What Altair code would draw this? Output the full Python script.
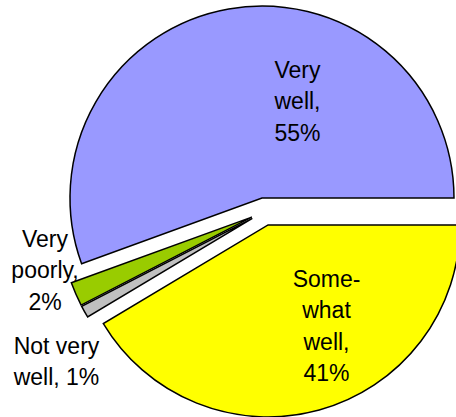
import altair as alt
import pandas as pd

# ---- data (clockwise from 3 o'clock, as in the reference) ----
categories = ["Somewhat well", "Not very well", "Very poorly", "Very well"]
values = [41, 1, 2, 55]
label_lines = [
    ["Some-", "what", "well,", "41%"],
    ["Not very", "well, 1%"],
    ["Very", "poorly,", "2%"],
    ["Very", "well,", "55%"],
]
colors = ["#FFFF00", "#C0C0C0", "#99CC00", "#9999FF"]

# ---- layout (pixels) ----
CX, CY = 264.4, 211.6      # pie centre
RADIUS = 192
EXPLODE = 13.8
label_pos = {               # centre x, first baseline y
    "Somewhat well": (326.5, 286.5),
    "Not very well": (56.5, 353.5),
    "Very poorly": (45.0, 246.5),
    "Very well": (297.5, 77.5),
}

df = pd.DataFrame({
    "cat": categories,
    "val": values,
    "order": list(range(len(categories))),
    "label": ["\n".join(l) for l in label_lines],
    "lx": [label_pos[c][0] for c in categories],
    "ly": [label_pos[c][1] for c in categories],
})

color_scale = alt.Scale(domain=categories, range=colors)

base = alt.Chart(df)

arcs = base.transform_window(
    cum="sum(val)", sort=[alt.SortField("order")]
).transform_joinaggregate(
    total="sum(val)"
).transform_calculate(
    t0=f"PI/2 + 2*PI*(datum.cum - datum.val)/datum.total",
    t1=f"PI/2 + 2*PI*datum.cum/datum.total",
).transform_calculate(
    mid="(datum.t0 + datum.t1)/2"
).transform_calculate(
    cx=f"{CX} + {EXPLODE}*sin(datum.mid)",
    cy=f"{CY} - {EXPLODE}*cos(datum.mid)",
).mark_arc(
    stroke="black", strokeWidth=1.5, strokeJoin="miter", radius=RADIUS
).encode(
    theta=alt.Theta("t0:Q", scale=None),
    theta2="t1:Q",
    x=alt.X("cx:Q", scale=None),
    y=alt.Y("cy:Q", scale=None),
    color=alt.Color("cat:N", scale=color_scale, legend=None),
)

labels = base.mark_text(
    font="Liberation Sans", fontSize=23, color="black", align="center",
    baseline="alphabetic", lineBreak="\n", lineHeight=31.5,
).encode(
    x=alt.X("lx:Q", scale=None),
    y=alt.Y("ly:Q", scale=None),
    text="label:N",
)

chart = alt.layer(arcs, labels).properties(
    width=456, height=417, padding=0, autosize="none"
).configure_view(stroke=None)

chart.save("out.html", embed_options={"renderer": "svg", "actions": False})
